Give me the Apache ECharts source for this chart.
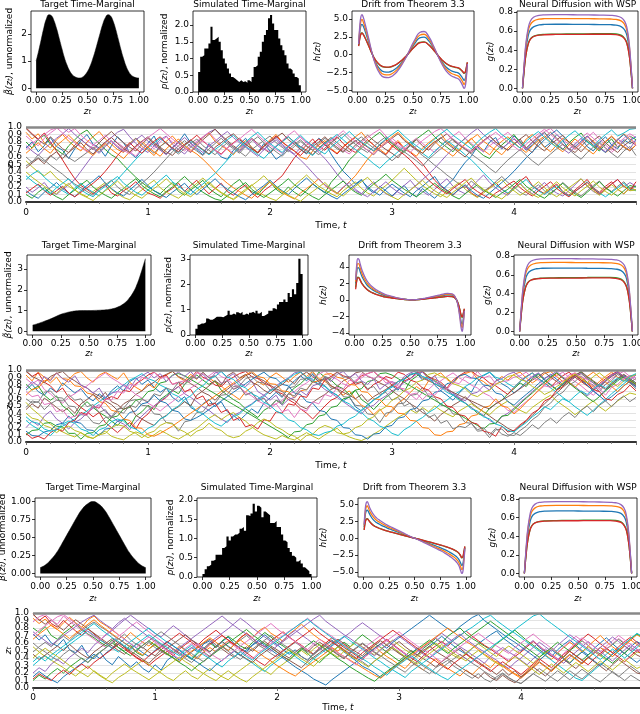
<!DOCTYPE html>
<html lang="en">
<head>
<meta charset="utf-8"/>
<title>Time-marginals, drift and neural diffusion</title>
<script src="https://cdn.jsdelivr.net/npm/echarts@6.0.0/dist/echarts.min.js"></script>
<style>
    * { margin: 0; padding: 0; }
    html, body { width: 640px; height: 714px; background: #fff; overflow: hidden; }
    #main { width: 640px; height: 714px; }
</style>
</head>
<body>
<div id="main"></div>
<script>
// ---------------- data ----------------

// target time-marginals (unnormalized)
var targetZ1 = [0, 0.025, 0.05, 0.075, 0.1, 0.125, 0.15, 0.175, 0.2, 0.225, 0.25, 0.275, 0.3, 0.325, 0.35, 0.375, 0.4, 0.425, 0.45, 0.475, 0.5,
    0.525, 0.55, 0.575, 0.6, 0.625, 0.65, 0.675, 0.7, 0.725, 0.75, 0.775, 0.8, 0.825, 0.85, 0.875, 0.9, 0.925, 0.95, 0.975, 1];
var target1 = [1.00, 1.38, 1.80, 2.22, 2.55, 2.70, 2.66, 2.47, 2.18, 1.83, 1.47, 1.13, 0.86, 0.65, 0.51, 0.43, 0.39, 0.38, 0.41, 0.49, 0.62,
    0.81, 1.07, 1.37, 1.71, 2.05, 2.37, 2.60, 2.70, 2.65, 2.46, 2.16, 1.80, 1.43, 1.10, 0.82, 0.62, 0.49, 0.42, 0.39, 0.38];
var targetZ2 = [0, 0.05, 0.1, 0.15, 0.2, 0.25, 0.3, 0.35, 0.4, 0.45, 0.5, 0.55, 0.6, 0.65, 0.7, 0.75, 0.8, 0.85, 0.9, 0.925, 0.95, 0.975, 1];
var target2 = [0.30, 0.38, 0.48, 0.58, 0.70, 0.82, 0.90, 0.96, 0.99, 1.00, 1.00, 1.01, 1.02, 1.04, 1.08, 1.16, 1.30, 1.55, 1.95, 2.25, 2.62, 3.05, 3.50];
var targetZ3 = [0, 0.05, 0.1, 0.15, 0.2, 0.25, 0.3, 0.35, 0.4, 0.45, 0.5, 0.55, 0.6, 0.65, 0.7, 0.75, 0.8, 0.85, 0.9, 0.95, 1];
var target3 = [0.08, 0.12, 0.19, 0.28, 0.40, 0.53, 0.66, 0.79, 0.90, 0.97, 1.00, 0.97, 0.90, 0.79, 0.66, 0.53, 0.40, 0.28, 0.19, 0.12, 0.08];

// simulated time-marginal histograms, 50 bins of width 0.02
var hist1 = [0.6, 1.05, 1.1, 1.3, 1.3, 1.45, 1.95, 1.55, 1.6, 1.65, 1.5, 1.25, 1.0, 0.85, 0.7, 0.55, 0.45, 0.4, 0.35, 0.3,
    0.35, 0.3, 0.32, 0.28, 0.35, 0.3, 0.45, 0.75, 0.8, 1.05, 1.2, 1.5, 1.7, 1.85, 2.2, 2.3, 2.05, 1.85, 1.85, 1.6,
    1.4, 1.25, 1.1, 0.85, 0.7, 0.65, 0.55, 0.45, 0.4, 0.2];
var hist2 = [0.25, 0.4, 0.45, 0.45, 0.5, 0.65, 0.6, 0.6, 0.65, 0.72, 0.72, 0.72, 0.7, 0.75, 0.8, 0.95, 0.8, 0.85, 0.8, 0.9,
    0.85, 0.92, 0.8, 0.85, 0.8, 0.88, 0.92, 0.85, 0.95, 0.85, 0.92, 0.75, 0.8, 0.85, 0.95, 0.95, 1.05, 1.0, 1.2, 1.3,
    1.3, 1.4, 1.3, 1.65, 1.5, 1.8, 1.6, 2.05, 3.0, 2.4];
var hist3 = [0.08, 0.2, 0.28, 0.32, 0.42, 0.45, 0.58, 0.58, 0.58, 0.75, 0.8, 1.05, 0.95, 1.05, 1.1, 1.1, 1.15, 1.25, 1.3, 1.2,
    1.6, 1.58, 1.65, 1.9, 1.7, 1.85, 1.8, 1.55, 1.7, 1.65, 1.6, 1.4, 1.4, 1.45, 1.3, 1.3, 1.1, 0.95, 0.9, 0.75,
    0.65, 0.55, 0.5, 0.4, 0.45, 0.35, 0.25, 0.2, 0.15, 0.08];
var binWidth = 0.02;

// drift h(z) for the five diffusion nets: blue, orange, green, red, purple
var driftZ = [0.01, 0.02, 0.03, 0.04, 0.05, 0.07, 0.10, 0.13, 0.16, 0.20, 0.24, 0.28, 0.32, 0.36, 0.40, 0.44, 0.48, 0.52, 0.56, 0.60,
    0.64, 0.68, 0.72, 0.76, 0.80, 0.84, 0.88, 0.91, 0.93, 0.95, 0.96, 0.97, 0.98, 0.99];
var drift1 = [
    [1.4, 3.1, 4.05, 4.25, 4.05, 3.2, 1.75, 0.23, -0.99, -1.98, -2.39, -2.43, -2.2, -1.75, -1.06, -0.23, 0.76, 1.67, 2.36, 2.47, 1.98, 1.06, 0.0, -0.99, -1.75, -2.2, -2.43, -2.58, -2.89, -3.34, -3.57, -3.42, -2.6, -1.25],
    [1.45, 3.55, 4.65, 4.95, 4.65, 3.7, 2.0, 0.26, -1.14, -2.29, -2.77, -2.82, -2.55, -2.02, -1.23, -0.26, 0.88, 1.94, 2.73, 2.86, 2.29, 1.23, 0.0, -1.14, -2.02, -2.55, -2.82, -2.99, -3.34, -3.87, -4.14, -3.96, -3.0, -1.3],
    [1.25, 2.3, 2.9, 3.05, 2.9, 2.31, 1.27, 0.17, -0.72, -1.43, -1.73, -1.76, -1.6, -1.27, -0.77, -0.17, 0.55, 1.21, 1.71, 1.79, 1.43, 0.77, 0.0, -0.72, -1.27, -1.6, -1.76, -1.87, -2.09, -2.42, -2.6, -2.5, -1.9, -1.1],
    [1.2, 2.2, 2.85, 3.0, 2.85, 2.27, 1.24, 0.16, -0.7, -1.4, -1.7, -1.73, -1.57, -1.24, -0.76, -0.16, 0.54, 1.19, 1.67, 1.76, 1.4, 0.76, 0.0, -0.7, -1.24, -1.57, -1.73, -1.84, -2.05, -2.38, -2.55, -2.45, -1.85, -1.05],
    [1.5, 4.0, 5.3, 5.6, 5.3, 4.2, 2.3, 0.3, -1.3, -2.6, -3.15, -3.2, -2.9, -2.3, -1.4, -0.3, 1.0, 2.2, 3.1, 3.25, 2.6, 1.4, 0.0, -1.3, -2.3, -2.9, -3.2, -3.4, -3.8, -4.4, -4.7, -4.5, -3.4, -1.3]
];
var drift2 = [
    [2.0, 3.35, 3.9, 3.85, 3.45, 2.75, 2.05, 1.55, 1.25, 0.95, 0.7, 0.5, 0.39, 0.27, 0.17, 0.09, 0.04, 0.02, 0.04, 0.09, 0.17, 0.26, 0.35, 0.45, 0.55, 0.62, 0.58, 0.23, -0.4, -1.7, -2.55, -2.95, -2.35, -1.2],
    [2.2, 3.8, 4.4, 4.35, 3.9, 3.1, 2.3, 1.75, 1.4, 1.05, 0.8, 0.58, 0.44, 0.31, 0.19, 0.1, 0.04, 0.02, 0.04, 0.1, 0.19, 0.29, 0.4, 0.51, 0.62, 0.7, 0.66, 0.26, -0.45, -1.95, -2.9, -3.35, -2.65, -1.25],
    [1.5, 2.4, 2.75, 2.7, 2.45, 1.95, 1.45, 1.1, 0.88, 0.66, 0.5, 0.36, 0.28, 0.19, 0.12, 0.07, 0.03, 0.01, 0.03, 0.07, 0.12, 0.18, 0.25, 0.32, 0.38, 0.44, 0.41, 0.17, -0.28, -1.2, -1.8, -2.1, -1.7, -1.1],
    [1.3, 2.3, 2.7, 2.65, 2.4, 1.9, 1.42, 1.08, 0.86, 0.65, 0.49, 0.35, 0.27, 0.19, 0.12, 0.06, 0.03, 0.01, 0.03, 0.06, 0.12, 0.18, 0.24, 0.31, 0.38, 0.43, 0.4, 0.16, -0.27, -1.18, -1.78, -2.05, -1.65, -1.05],
    [2.4, 4.3, 5.0, 4.9, 4.4, 3.5, 2.6, 2.0, 1.6, 1.2, 0.9, 0.65, 0.5, 0.35, 0.22, 0.12, 0.05, 0.02, 0.05, 0.12, 0.22, 0.33, 0.45, 0.58, 0.7, 0.8, 0.75, 0.3, -0.5, -2.2, -3.3, -3.8, -3.0, -1.3]
];
var drift3 = [
    [1.65, 3.3, 4.0, 4.15, 3.95, 3.35, 2.7, 2.3, 2.05, 1.73, 1.46, 1.23, 1.0, 0.77, 0.54, 0.31, 0.09, -0.09, -0.31, -0.54, -0.77, -1.0, -1.23, -1.46, -1.73, -2.05, -2.4, -2.75, -3.1, -3.7, -4.0, -3.85, -2.8, -1.4],
    [1.85, 3.7, 4.6, 4.75, 4.5, 3.8, 3.1, 2.65, 2.35, 2.0, 1.68, 1.42, 1.15, 0.88, 0.62, 0.35, 0.1, -0.1, -0.35, -0.62, -0.88, -1.15, -1.42, -1.68, -2.0, -2.35, -2.75, -3.15, -3.55, -4.25, -4.6, -4.45, -3.2, -1.45],
    [1.25, 2.35, 2.8, 2.9, 2.75, 2.35, 1.9, 1.65, 1.45, 1.24, 1.05, 0.88, 0.72, 0.55, 0.39, 0.22, 0.07, -0.07, -0.22, -0.39, -0.55, -0.72, -0.88, -1.05, -1.24, -1.45, -1.7, -1.95, -2.2, -2.65, -2.9, -2.8, -2.1, -1.25],
    [1.2, 2.3, 2.75, 2.85, 2.7, 2.3, 1.87, 1.62, 1.43, 1.22, 1.03, 0.86, 0.7, 0.54, 0.38, 0.22, 0.06, -0.06, -0.22, -0.38, -0.54, -0.7, -0.86, -1.03, -1.22, -1.43, -1.68, -1.92, -2.16, -2.6, -2.85, -2.75, -2.05, -1.2],
    [2.0, 4.2, 5.2, 5.4, 5.1, 4.3, 3.5, 3.0, 2.65, 2.25, 1.9, 1.6, 1.3, 1.0, 0.7, 0.4, 0.12, -0.12, -0.4, -0.7, -1.0, -1.3, -1.6, -1.9, -2.25, -2.65, -3.1, -3.55, -4.0, -4.8, -5.2, -5.0, -3.6, -1.5]
];

// neural diffusion g(z), same nets in every row: blue, orange, green, red, purple
var gZ = [0, 0.01, 0.02, 0.03, 0.05, 0.07, 0.1, 0.15, 0.2, 0.3, 0.4, 0.5, 0.6, 0.7, 0.8, 0.85, 0.9, 0.93, 0.95, 0.97, 0.98, 0.99, 1];
var gNets = [
    [0, 0.15, 0.29, 0.40, 0.54, 0.61, 0.645, 0.665, 0.67, 0.672, 0.672, 0.671, 0.67, 0.669, 0.667, 0.662, 0.645, 0.61, 0.55, 0.41, 0.30, 0.16, 0],
    [0, 0.16, 0.31, 0.44, 0.59, 0.665, 0.705, 0.725, 0.73, 0.732, 0.732, 0.731, 0.73, 0.729, 0.727, 0.722, 0.705, 0.665, 0.60, 0.45, 0.32, 0.17, 0],
    [0, 0.125, 0.245, 0.34, 0.455, 0.515, 0.545, 0.56, 0.565, 0.568, 0.57, 0.571, 0.572, 0.574, 0.574, 0.57, 0.555, 0.52, 0.47, 0.35, 0.25, 0.13, 0],
    [0, 0.125, 0.245, 0.34, 0.455, 0.51, 0.543, 0.558, 0.562, 0.565, 0.566, 0.566, 0.567, 0.567, 0.567, 0.563, 0.548, 0.515, 0.465, 0.345, 0.25, 0.13, 0],
    [0, 0.17, 0.33, 0.46, 0.62, 0.70, 0.745, 0.765, 0.77, 0.772, 0.772, 0.771, 0.77, 0.768, 0.765, 0.76, 0.74, 0.70, 0.63, 0.47, 0.34, 0.18, 0]
];

// sample paths z_t (in hundredths), evenly spaced over t in [0, 5]; "|" marks every 10 steps
var tEnd = 5;
var paths1 = [
    "72 80 67 75 86 74 69 58 71 82 | 90 77 72 61 75 87 79 66 59 70 | 78 88 71 64 73 80 91 79 70 63 | 78 69 60 57 69 77 85 72 66 78 | 68 57 63 74 81 70 64 76 85 79 | 64 52 41 33 24 30 18 12 21 15 | 8 16 22 12 7 18 11 5 14 22 | 30 42 53 61 74 67 80 86 71 78 | 88 81 69 76 84 73 79 90 82 70 | 77 85 74 68 79 87 76 71 83 78 | 82",
    "93 84 91 79 72 83 90 81 74 68 | 80 87 94 84 77 70 66 78 85 74 | 69 62 74 81 88 79 72 67 78 86 | 92 81 75 70 63 74 82 73 66 75 | 83 90 80 73 68 60 57 68 76 82 | 71 65 74 81 87 93 83 76 70 64 | 75 82 72 67 61 72 79 85 91 80 | 74 68 78 85 76 69 63 74 81 87 | 79 72 84 90 82 73 67 76 85 80 | 71 78 88 81 74 66 72 83 91 84 | 78",
    "80 72 84 89 77 70 64 75 83 91 | 96 86 78 70 63 58 49 41 33 26 | 20 15 11 19 26 14 9 16 22 29 | 18 12 7 16 24 30 20 14 10 19 | 27 17 11 20 13 8 15 24 18 12 | 26 35 44 56 64 72 80 87 93 84 | 78 71 66 77 84 90 96 87 79 73 | 67 78 85 76 69 62 58 68 76 83 | 90 79 72 80 87 93 83 76 70 79 | 86 92 81 74 68 77 84 73 80 88 | 83",
    "99 91 84 92 80 68 56 43 31 22 | 17 11 18 23 12 8 15 20 27 18 | 12 9 5 13 18 25 14 22 29 19 | 11 18 25 14 9 17 23 12 6 15 | 21 28 35 47 59 68 76 84 74 69 | 79 87 78 71 66 75 83 76 68 63 | 73 80 71 66 59 51 40 29 21 15 | 9 17 22 12 7 14 19 26 17 11 | 20 28 34 22 16 11 18 24 14 9 | 16 23 30 19 13 21 27 17 11 19 | 16",
    "20 13 19 26 15 10 17 23 30 41 | 52 63 71 79 86 93 97 87 78 71 | 66 75 83 88 77 70 64 73 79 86 | 93 97 88 80 73 67 76 84 75 69 | 80 86 77 70 64 72 81 74 66 58 | 48 37 28 21 15 11 20 27 17 11 | 7 15 22 29 19 14 9 17 24 31 | 21 15 11 20 28 36 26 19 13 9 | 18 25 16 11 19 26 17 12 8 15 | 23 31 21 14 10 17 24 30 20 26 | 21",
    "98 90 83 77 87 79 71 66 76 84 | 76 70 79 87 94 86 79 73 68 77 | 85 77 71 64 72 80 72 66 75 83 | 90 97 89 82 75 69 78 85 78 71 | 65 74 81 87 80 74 69 63 72 79 | 86 79 72 67 76 82 89 82 76 70 | 65 59 69 76 83 75 69 78 85 91 | 82 76 71 65 74 81 88 80 74 69 | 77 84 72 66 79 86 93 85 77 71 | 66 74 83 76 70 80 87 79 73 68 | 76",
    "88 81 75 85 92 98 99 93 98 89 | 82 76 70 79 86 79 73 67 61 71 | 78 71 80 87 80 74 68 75 81 87 | 93 84 77 71 65 72 78 84 77 71 | 67 75 82 89 95 86 79 73 68 76 | 83 76 69 64 73 80 86 92 97 88 | 81 75 70 79 85 78 72 66 75 82 | 88 94 85 78 72 67 75 81 87 93 | 85 78 71 80 88 94 98 90 83 77 | 70 78 86 93 84 76 69 78 85 91 | 86",
    "48 54 59 54 62 56 64 59 54 60 | 66 73 67 76 82 73 68 78 85 78 | 71 65 74 80 70 64 71 78 84 75 | 69 63 72 79 73 67 61 70 76 82 | 88 79 73 67 74 81 74 69 78 85 | 77 71 66 75 81 87 78 72 68 62 | 55 62 68 75 69 62 56 49 43 36 | 30 24 19 28 21 14 20 27 34 26 | 20 13 9 17 23 15 10 18 26 19 | 13 8 15 22 28 19 14 21 27 18 | 21",
    "55 47 40 35 41 32 26 21 16 11 | 7 14 20 26 17 11 6 3 10 16 | 23 29 19 13 9 5 12 18 25 32 | 24 18 12 7 4 11 17 23 14 9 | 5 2 9 15 22 29 36 28 21 16 | 11 7 15 21 27 18 12 8 16 22 | 29 37 45 37 29 22 16 11 7 14 | 20 26 17 11 6 12 18 24 30 21 | 15 9 14 20 27 19 12 7 13 19 | 25 31 22 15 9 16 23 17 11 18 | 16",
    "30 37 42 33 26 20 15 10 18 25 | 18 13 8 16 23 30 39 48 57 65 | 72 79 85 78 71 66 75 82 75 69 | 63 70 76 83 89 81 74 69 63 58 | 67 74 80 87 79 73 67 62 71 78 | 84 90 83 76 70 64 58 51 45 53 | 60 67 74 80 71 65 59 68 75 82 | 76 70 63 56 48 39 31 23 17 12 | 18 24 30 21 15 10 16 22 13 8 | 14 20 27 18 12 7 13 19 25 17 | 15",
    "15 9 5 13 19 26 18 12 7 15 | 22 28 35 25 18 12 8 16 23 30 | 22 15 10 6 13 19 25 16 10 17 | 24 31 23 17 12 7 3 10 16 22 | 29 21 15 10 18 25 32 24 18 13 | 8 4 11 17 23 29 20 14 9 17 | 24 18 12 7 15 21 28 34 22 16 | 10 17 23 15 9 5 12 19 26 33 | 41 50 59 67 75 83 90 96 88 80 | 73 81 88 79 72 66 75 83 90 82 | 87",
    "65 72 79 71 65 75 82 89 81 74 | 68 62 71 78 70 64 58 67 74 81 | 73 67 61 71 78 84 75 69 64 57 | 49 40 32 25 19 14 9 5 13 20 | 27 19 13 8 4 12 18 24 31 22 | 16 11 19 27 35 46 57 66 73 80 | 87 93 84 77 71 65 74 81 73 67 | 61 70 77 84 90 81 75 69 63 72 | 79 72 66 75 82 88 80 73 67 76 | 84 77 70 64 73 81 88 80 74 69 | 76",
    "10 5 13 19 12 7 3 10 16 23 | 29 20 14 9 5 12 18 25 31 22 | 16 11 7 14 20 27 34 26 19 13 | 8 4 2 8 14 20 26 17 11 6 | 12 18 24 31 23 17 12 7 3 10 | 16 22 28 19 13 9 17 24 30 37 | 29 23 17 12 7 13 19 25 18 13 | 8 4 11 17 23 16 11 6 12 17 | 24 30 21 15 9 5 12 18 25 17 | 11 6 13 20 27 19 13 8 15 22 | 20",
    "12 18 24 15 9 15 21 12 7 13 | 19 25 32 41 51 62 71 79 71 65 | 74 81 87 78 72 67 76 82 89 81 | 75 69 64 72 79 85 77 71 66 75 | 81 88 80 74 68 62 71 78 84 76 | 70 64 73 80 86 79 73 68 76 83 | 75 69 63 56 47 38 29 22 16 11 | 18 24 30 20 14 9 5 12 17 23 | 28 19 13 8 15 21 27 18 12 7 | 14 20 26 17 11 18 24 30 21 15 | 27",
    "75 68 62 71 78 85 91 98 90 83 | 77 71 65 74 81 73 67 76 83 89 | 81 75 69 63 72 79 86 78 72 66 | 75 81 88 94 86 79 73 67 61 70 | 77 83 75 69 63 56 48 39 30 23 | 17 12 20 26 17 11 7 14 20 27 | 19 13 9 16 23 30 37 45 54 63 | 71 78 85 92 98 90 83 77 71 78 | 84 76 70 79 86 92 84 77 71 65 | 74 81 88 79 72 67 76 84 78 71 | 83",
    "45 52 58 51 61 67 58 66 73 79 | 70 64 73 80 86 78 71 66 75 81 | 87 79 73 67 62 71 77 83 76 70 | 64 73 79 86 91 83 77 71 65 74 | 80 86 92 83 77 70 65 74 80 87 | 79 73 67 76 82 75 69 63 72 78 | 85 91 82 76 70 65 73 80 86 78 | 72 66 60 69 75 82 88 80 74 69 | 77 84 90 81 74 68 77 83 89 80 | 74 67 76 82 88 79 72 66 75 81 | 76",
    "70 78 84 90 96 99 92 85 79 73 | 67 76 82 89 81 75 69 64 73 80 | 86 92 98 91 84 78 72 67 75 82 | 75 69 63 72 78 84 91 97 89 82 | 76 70 65 73 80 87 79 73 68 76 | 82 88 95 87 81 75 69 64 72 79 | 85 78 72 66 75 82 88 94 98 91 | 84 78 72 67 75 81 87 93 86 80 | 74 68 77 84 91 97 90 83 76 70 | 78 85 92 85 78 72 66 74 81 88 | 75",
    "60 53 63 56 49 43 37 30 24 19 | 14 9 17 23 29 20 14 10 18 25 | 32 40 49 58 67 75 82 74 68 62 | 71 78 85 77 71 65 74 81 87 79 | 73 67 61 70 77 83 75 69 63 72 | 79 85 91 83 77 71 66 74 81 87 | 79 73 67 61 55 48 57 64 71 78 | 84 76 70 64 58 52 45 39 48 56 | 63 70 62 55 49 57 64 71 77 70 | 63 57 66 73 80 72 65 59 68 74 | 62",
    "40 33 27 21 16 11 19 25 16 10 | 6 2 9 15 21 28 20 14 9 5 | 12 18 24 31 23 17 11 7 14 20 | 27 19 13 8 3 9 15 22 28 35 | 26 20 14 9 5 1 8 14 20 26 | 18 12 8 15 21 27 33 24 18 12 | 7 3 10 16 22 29 21 15 10 6 | 13 19 26 32 23 17 12 8 4 11 | 17 24 16 10 6 13 20 27 19 13 | 8 15 21 28 20 14 9 16 22 15 | 16",
    "35 28 22 16 11 19 25 31 22 16 | 11 7 15 21 28 34 25 19 13 9 | 16 22 29 36 27 21 15 10 18 24 | 31 38 47 56 65 73 80 87 93 85 | 78 72 66 75 82 89 81 75 69 64 | 73 80 87 94 86 80 74 68 77 84 | 90 96 88 81 75 69 77 84 91 97 | 89 83 77 71 80 87 93 98 90 84 | 78 72 81 88 94 86 79 73 82 89 | 95 87 80 74 83 90 96 88 92 97 | 98"
];
var paths2 = [
    "72 80 70 65 75 69 82 75 68 74 | 63 57 67 60 71 78 71 84 89 80 | 86 76 69 75 62 56 63 48 43 53 | 59 49 56 42 37 30 38 46 40 54 | 61 69 62 76 85 92 85 94 83 78 | 70 65 57 63 49 43 52 58 64 71 | 78 72 87 93 96 86 91 79 71 65 | 58 68 76 69 84 92 97 88 81 76 | 68 75 83 90 95 87 80 73 81 88 | 94 86 79 71 64 72 80 87 93 85 | 78",
    "93 85 97 90 82 90 78 87 95 98 | 89 83 93 97 92 87 96 83 76 71 | 81 75 88 93 98 90 85 94 87 97 | 89 83 78 70 65 59 70 76 84 79 | 90 96 90 83 91 97 91 98 88 84 | 78 73 65 71 60 51 47 38 46 35 | 45 54 60 69 77 71 85 92 96 87 | 81 91 95 98 88 84 77 84 91 86 | 94 97 89 82 88 95 98 91 84 90 | 96 89 82 76 84 91 97 90 85 92 | 93",
    "80 72 78 65 58 64 50 44 35 48 | 56 48 41 36 29 23 32 21 36 42 | 51 45 59 65 72 67 80 87 93 86 | 80 85 72 65 59 54 46 40 34 44 | 49 58 52 67 75 81 89 83 97 90 | 86 78 74 66 72 59 53 45 54 62 | 68 76 70 85 91 98 91 85 80 73 | 65 60 54 48 40 36 47 53 58 67 | 74 82 77 88 94 86 79 72 80 87 | 93 97 90 84 77 85 92 96 89 83 | 88",
    "99 91 96 83 78 69 75 62 55 48 | 42 35 41 27 20 13 21 27 18 32 | 39 50 56 62 71 77 84 89 98 90 | 86 79 77 85 90 95 98 91 88 82 | 78 70 67 59 54 46 40 32 41 50 | 58 62 71 79 83 92 95 98 90 87 | 79 75 85 88 96 98 90 87 83 75 | 86 92 97 99 92 89 82 78 72 66 | 76 84 91 96 88 82 76 85 92 97 | 90 84 78 72 81 88 94 98 91 86 | 80",
    "20 29 23 36 43 32 26 18 27 32 | 40 47 52 42 36 29 25 17 28 36 | 44 50 57 63 71 77 67 62 56 49 | 44 37 32 27 37 41 48 53 60 65 | 72 78 84 89 96 98 89 85 80 73 | 68 62 56 50 44 39 48 51 59 64 | 71 75 83 88 94 97 88 84 78 72 | 66 61 54 48 42 37 30 25 35 40 | 47 55 62 70 77 84 91 96 89 83 | 77 70 64 71 79 86 93 97 90 84 | 78",
    "98 91 87 82 91 95 98 90 85 79 | 75 68 64 57 52 44 53 58 66 71 | 78 83 90 94 98 91 87 81 76 69 | 65 58 67 73 80 85 92 96 89 85 | 79 74 70 62 58 50 46 55 61 66 | 73 77 85 89 96 98 91 88 82 78 | 71 65 60 53 48 41 36 29 38 44 | 51 56 63 55 48 42 36 30 25 19 | 15 22 29 37 45 53 61 68 76 83 | 90 95 88 82 76 84 91 96 89 83 | 77",
    "88 81 86 73 67 59 54 62 67 73 | 78 85 90 96 89 84 78 73 66 61 | 54 49 43 50 56 63 68 75 80 87 | 92 98 91 87 80 76 69 64 57 53 | 46 53 58 66 70 77 82 89 94 99 | 91 87 81 77 86 89 95 98 91 88 | 82 78 71 66 59 69 73 81 85 91 | 96 89 85 79 75 68 64 56 52 44 | 41 49 56 63 71 78 86 92 97 90 | 84 78 71 65 73 80 88 94 98 91 | 86",
    "48 57 55 69 71 62 61 50 49 38 | 37 27 25 34 35 46 47 57 59 51 | 50 39 38 27 26 15 28 30 41 42 | 53 54 65 66 77 78 88 91 83 82 | 72 73 63 75 77 87 88 96 86 87 | 75 74 63 62 51 50 39 38 27 40 | 42 53 54 65 66 76 64 62 51 50 | 39 38 27 26 15 16 6 17 18 10 | 9 16 22 31 37 48 54 64 69 79 | 84 92 83 79 70 80 85 94 86 82 | 74",
    "55 46 39 31 25 18 14 10 7 13 | 8 5 11 15 8 5 3 9 14 11 | 6 10 16 12 7 4 9 14 19 26 | 33 38 31 37 41 34 29 21 15 10 | 7 4 9 5 3 8 13 8 4 10 | 15 19 11 7 4 2 6 11 16 22 | 28 34 39 45 40 48 42 50 44 39 | 35 43 48 53 47 42 38 46 52 57 | 49 44 40 48 54 60 65 57 51 45 | 38 44 51 57 49 43 50 57 63 68 | 66",
    "30 23 18 13 9 17 22 27 32 38 | 43 50 56 62 67 74 79 86 90 95 | 88 85 79 75 67 63 56 51 43 39 | 32 26 22 29 35 39 47 52 59 63 | 71 75 83 88 94 97 90 87 80 77 | 69 65 57 53 45 41 33 29 22 19 | 12 9 17 22 29 34 41 46 53 58 | 65 70 77 82 89 93 97 90 87 81 | 76 84 90 96 88 82 75 69 62 56 | 49 43 37 44 52 59 67 74 81 88 | 82",
    "15 9 8 14 16 24 26 36 28 26 | 17 16 9 18 19 29 31 41 43 53 | 55 65 57 54 44 42 32 30 34 39 | 45 51 57 63 69 75 81 87 92 97 | 90 88 80 78 68 66 56 54 44 42 | 32 30 20 19 10 9 4 11 12 21 | 23 33 35 45 47 57 59 69 71 81 | 83 92 94 89 88 79 78 68 66 56 | 51 59 66 73 81 88 94 87 80 88 | 93 86 79 71 64 57 63 70 78 84 | 76",
    "65 73 75 85 87 96 88 87 78 77 | 68 66 56 54 44 42 32 30 20 19 | 10 8 12 17 22 28 34 40 46 52 | 58 64 70 76 82 88 93 98 91 89 | 81 80 71 70 61 71 73 83 85 94 | 95 90 88 80 79 70 69 60 59 50 | 49 40 39 30 29 20 19 10 9 14 | 15 24 26 36 38 48 50 60 50 48 | 39 46 55 63 72 80 88 95 89 83 | 76 84 91 97 90 83 77 70 78 85 | 80",
    "10 16 17 26 27 22 21 12 12 4 | 12 13 22 24 34 36 46 48 58 60 | 70 72 82 84 93 95 92 87 82 77 | 72 67 62 57 52 47 42 37 32 27 | 22 17 12 6 14 15 24 26 36 38 | 48 50 60 62 72 74 84 86 95 96 | 93 88 83 78 73 68 63 58 53 48 | 43 38 33 28 23 18 25 26 36 37 | 45 53 61 68 76 83 90 96 89 82 | 75 69 62 56 63 71 78 85 91 86 | 80",
    "12 5 8 4 13 18 15 27 30 41 | 38 50 47 59 63 60 72 70 81 86 | 93 97 90 93 80 83 70 73 60 64 | 50 54 41 45 30 34 21 24 18 31 | 29 42 40 53 51 64 62 75 73 86 | 91 97 92 89 80 83 72 80 84 91 | 88 97 94 86 83 75 72 63 60 50 | 48 38 36 27 25 15 13 8 22 14 | 16 24 30 40 45 57 61 72 77 88 | 93 86 82 73 70 60 58 66 70 79 | 71",
    "75 84 78 91 85 96 88 83 92 79 | 75 68 75 61 68 70 80 74 87 92 | 97 89 95 84 92 97 91 98 88 94 | 85 96 98 89 95 82 77 85 70 65 | 58 65 51 59 62 71 65 78 81 90 | 84 94 98 89 95 85 80 88 73 80 | 84 80 91 96 99 91 86 92 79 75 | 68 62 57 67 69 78 72 85 88 94 | 97 90 84 91 96 88 93 98 90 85 | 91 96 88 82 76 85 92 97 91 86 | 93",
    "45 53 47 61 55 48 42 48 40 53 | 59 66 60 69 56 52 45 50 37 32 | 27 23 32 37 44 49 56 50 65 71 | 78 85 79 92 97 89 94 83 79 72 | 67 75 80 87 81 92 97 91 84 89 | 78 74 69 65 60 66 56 63 68 73 | 79 84 88 94 96 89 85 81 76 73 | 69 65 61 57 53 49 46 53 58 63 | 68 74 80 86 91 97 90 84 78 85 | 92 98 91 85 79 73 81 88 94 88 | 82",
    "70 63 65 52 54 42 45 33 36 39 | 37 50 48 60 58 70 68 80 78 90 | 87 97 88 91 80 83 85 84 96 95 | 90 92 82 85 74 77 66 69 58 61 | 50 53 42 45 34 46 43 56 53 66 | 63 76 73 86 83 95 92 88 92 82 | 84 75 74 66 68 59 67 65 75 73 | 83 81 91 88 98 89 92 81 84 85 | 90 92 97 89 86 78 76 81 85 93 | 96 90 87 77 74 65 76 80 88 92 | 89",
    "60 54 56 45 53 58 57 66 58 60 | 49 52 41 45 33 43 40 51 48 59 | 56 67 64 75 72 83 80 91 88 97 | 89 92 81 85 73 77 65 69 57 61 | 49 58 55 67 64 75 72 84 80 91 | 88 97 90 91 82 84 74 77 66 69 | 58 62 50 54 42 46 34 38 26 30 | 18 22 20 26 17 20 10 19 11 8 | 13 9 16 24 18 27 33 26 35 41 | 34 44 50 42 51 57 49 58 64 56 | 62",
    "40 33 31 23 20 13 19 22 16 13 | 7 5 10 12 20 24 22 15 12 6 | 12 15 23 27 25 18 14 8 15 18 | 26 19 16 9 6 8 15 19 27 32 | 28 21 17 11 8 2 9 11 19 23 | 20 13 11 13 20 23 31 35 44 49 | 58 63 71 75 83 86 94 96 91 89 | 81 78 74 66 63 69 72 80 84 91 | 93 87 84 77 73 66 70 77 82 89 | 94 88 82 91 96 89 83 77 85 90 | 94",
    "35 28 26 18 15 17 25 29 26 18 | 15 9 17 20 28 32 29 21 18 12 | 19 23 32 36 45 50 59 64 73 78 | 87 91 98 90 87 79 75 67 63 55 | 51 43 39 31 28 20 17 11 9 13 | 15 22 25 32 36 45 50 59 63 72 | 76 84 87 94 96 91 88 81 77 69 | 65 58 54 46 43 35 32 25 22 16 | 14 21 27 35 41 49 45 53 60 56 | 64 71 66 74 80 75 83 89 84 91 | 95"
];
var paths3 = [
    "72 64 71 60 56 65 51 47 57 43 | 39 48 37 31 42 35 28 35 26 21 | 31 24 37 43 37 48 54 48 59 63 | 54 62 68 59 53 48 58 64 71 64 | 58 51 45 51 42 37 46 52 58 63 | 55 48 42 36 29 25 20 14 20 27 | 33 40 46 53 47 56 62 69 62 56 | 50 45 53 59 65 71 76 67 61 55 | 49 57 63 54 48 42 51 58 64 57 | 50 44 53 60 67 59 52 46 55 62 | 57",
    "93 86 92 83 78 87 94 87 81 91 | 96 88 83 77 71 66 74 67 61 56 | 64 58 51 47 56 50 43 39 48 54 | 48 57 63 57 67 73 67 76 81 73 | 68 62 72 78 85 78 71 65 60 54 | 49 58 51 45 40 49 56 48 42 37 | 31 26 35 29 24 32 39 32 26 21 | 16 24 18 26 33 27 36 30 25 19 | 15 23 30 37 44 38 47 54 61 55 | 48 56 63 70 62 55 49 57 64 71 | 66",
    "80 74 82 70 65 73 79 86 78 72 | 67 61 56 64 54 49 57 47 43 52 | 59 51 46 40 35 44 38 46 53 60 | 54 63 69 63 56 52 61 67 74 68 | 61 56 50 44 53 46 39 34 42 48 | 55 61 55 64 71 65 59 54 48 42 | 36 43 50 44 53 59 66 60 69 75 | 80 72 66 61 56 51 59 65 71 77 | 70 63 57 51 45 54 47 41 50 56 | 63 57 49 43 52 58 65 59 66 72 | 68",
    "99 90 96 86 81 90 83 76 70 79 | 72 65 59 53 62 54 47 41 36 30 | 37 43 49 43 52 58 64 57 65 71 | 77 70 64 58 67 73 66 59 55 63 | 69 75 68 62 57 51 45 54 60 67 | 60 54 49 43 38 46 53 59 65 58 | 52 46 40 35 43 50 56 62 56 64 | 70 76 69 63 57 52 46 41 35 42 | 48 55 62 56 49 43 37 45 51 58 | 65 72 66 59 53 47 55 62 68 61 | 55",
    "20 27 22 32 38 32 41 47 53 47 | 57 64 71 77 84 91 97 91 85 79 | 73 68 76 83 77 70 64 58 52 61 | 67 73 79 86 93 87 80 74 68 62 | 56 64 71 77 71 65 59 53 47 56 | 62 68 74 81 87 81 75 69 63 57 | 51 45 40 48 55 61 67 73 67 61 | 55 50 44 39 33 42 48 54 48 43 | 37 31 39 46 52 45 39 33 41 48 | 55 62 55 49 42 36 44 51 58 52 | 46",
    "98 91 85 91 83 77 85 91 85 79 | 73 67 61 56 50 45 53 59 54 48 | 43 51 58 52 47 41 48 54 60 65 | 57 52 46 41 49 55 49 57 62 56 | 51 45 40 48 54 48 56 61 55 50 | 44 39 47 53 59 53 47 42 50 56 | 62 55 49 44 39 34 28 35 41 47 | 53 46 40 35 29 24 18 25 17 23 | 15 21 28 35 29 23 31 38 45 39 | 33 40 47 54 48 42 49 56 50 44 | 40",
    "88 95 98 91 85 96 89 83 77 71 | 65 59 54 62 69 75 82 88 81 75 | 69 63 57 51 45 53 59 52 46 41 | 49 55 62 56 50 44 39 47 53 59 | 65 70 76 81 87 93 86 80 74 69 | 63 57 51 45 52 58 64 70 63 57 | 51 46 41 49 55 61 67 61 55 50 | 44 39 34 42 48 54 48 42 37 45 | 51 57 63 56 50 44 38 46 53 60 | 67 61 55 48 56 63 70 64 58 51 | 50",
    "48 55 61 55 63 69 63 71 77 83 | 88 82 77 71 65 72 64 58 53 61 | 54 49 44 52 45 39 34 42 48 42 | 50 56 50 58 64 70 63 57 52 46 | 41 49 55 61 55 49 44 52 58 64 | 57 51 46 40 35 29 36 42 48 54 | 47 41 35 30 24 19 27 32 37 29 | 24 18 13 19 12 8 15 20 14 9 | 6 13 19 26 20 14 9 16 23 17 | 12 19 26 33 27 21 15 22 29 23 | 17",
    "55 48 42 37 32 27 21 16 23 29 | 22 16 11 7 14 19 25 31 37 31 | 25 20 14 10 17 23 16 12 20 26 | 20 15 11 18 24 30 36 29 23 18 | 26 32 38 44 50 44 52 58 52 46 | 41 49 55 61 55 49 44 52 58 64 | 57 51 46 41 49 54 60 54 48 43 | 39 47 53 59 53 47 42 50 56 50 | 45 39 33 41 47 53 46 40 34 42 | 48 55 49 43 37 45 52 46 40 48 | 46",
    "30 37 43 37 46 52 58 64 70 76 | 70 64 59 53 48 56 62 68 74 80 | 73 67 61 56 51 45 40 48 54 48 | 56 62 56 50 44 38 33 27 22 30 | 36 42 48 42 36 31 39 45 51 57 | 63 69 63 57 52 46 40 35 29 24 | 19 14 22 28 34 40 46 52 58 64 | 70 76 81 87 93 97 90 84 78 73 | 67 61 55 49 43 37 31 25 19 13 | 10 17 24 31 38 45 52 59 66 73 | 68",
    "15 22 16 11 7 15 21 27 33 39 | 45 39 47 53 59 65 59 53 47 42 | 50 56 62 56 50 44 39 34 28 23 | 31 37 43 49 43 51 57 63 57 51 | 45 40 34 28 23 18 12 8 4 11 | 17 23 29 35 41 47 53 59 53 61 | 67 73 79 85 91 97 91 85 79 74 | 82 88 94 98 90 84 78 72 66 61 | 55 49 43 37 44 51 45 39 33 41 | 48 42 36 30 38 45 52 46 40 34 | 41",
    "65 72 78 84 78 72 66 73 79 85 | 91 84 78 72 66 60 55 49 44 52 | 58 51 45 40 35 43 49 55 61 67 | 61 55 50 58 64 58 52 47 41 36 | 30 25 20 16 23 29 35 41 47 53 | 47 42 37 32 27 22 17 13 20 26 | 32 38 44 50 56 62 68 74 80 74 | 68 62 57 51 45 40 34 29 23 18 | 13 20 27 34 28 22 30 37 44 38 | 32 40 47 54 48 42 50 57 64 58 | 52",
    "10 17 12 20 26 20 28 34 40 34 | 42 48 54 60 54 48 43 51 57 63 | 57 51 45 40 34 29 23 30 36 42 | 48 54 60 66 72 78 71 65 59 54 | 48 42 37 45 51 57 63 57 51 45 | 39 34 28 23 18 13 9 16 22 28 | 34 40 46 52 58 64 58 52 46 53 | 59 65 71 77 83 89 83 77 71 65 | 59 53 47 41 48 54 61 55 49 43 | 37 44 51 45 39 33 40 47 54 48 | 56",
    "12 19 14 10 18 24 18 26 32 26 | 34 40 46 52 58 52 46 40 35 43 | 49 55 61 67 73 67 61 55 50 58 | 64 70 64 58 52 47 41 35 30 38 | 44 50 56 62 68 74 80 73 67 61 | 56 50 44 39 47 53 59 65 71 77 | 71 65 59 53 47 41 36 30 25 33 | 39 45 39 33 28 22 29 35 29 24 | 18 25 32 39 33 27 35 42 49 43 | 37 31 39 46 53 47 41 35 43 50 | 44",
    "75 69 63 57 64 70 76 82 88 93 | 97 90 84 79 87 93 86 80 74 68 | 63 57 51 46 54 60 66 72 78 84 | 90 96 89 83 77 72 66 60 55 49 | 56 62 68 74 80 86 92 97 89 83 | 77 71 66 60 54 48 43 51 57 63 | 69 63 57 51 45 40 48 54 60 66 | 72 65 59 53 48 42 37 31 26 34 | 40 47 54 61 55 49 57 64 71 65 | 58 52 46 54 61 68 62 56 50 57 | 63",
    "45 38 44 50 56 50 58 51 45 40 | 48 54 60 66 60 55 49 44 38 33 | 41 47 53 59 65 71 64 59 53 48 | 56 62 55 50 44 39 34 42 48 54 | 48 42 37 32 27 35 41 47 53 59 | 65 59 53 48 43 51 57 63 57 52 | 46 41 36 44 50 56 49 44 39 34 | 28 23 18 13 21 14 10 17 11 7 | 14 21 28 22 16 24 31 38 32 26 | 34 41 35 29 23 31 38 32 26 20 | 18",
    "70 77 83 89 95 98 92 86 80 75 | 69 64 72 78 71 65 59 54 62 68 | 61 55 50 44 39 47 53 59 52 46 | 41 36 44 50 56 62 68 74 80 86 | 79 73 67 62 56 51 59 65 59 53 | 47 42 36 31 39 45 51 57 63 69 | 75 68 62 56 51 46 40 35 43 49 | 55 61 67 73 67 61 56 51 46 54 | 60 66 72 65 59 53 47 55 62 69 | 63 57 50 44 52 59 66 60 54 48 | 55",
    "60 53 48 42 37 45 51 45 39 34 | 42 48 54 60 66 60 54 49 57 63 | 69 75 69 63 57 51 46 40 35 43 | 49 55 49 43 38 46 52 58 64 70 | 64 58 53 47 42 37 45 51 57 51 | 45 40 48 54 60 54 48 43 37 32 | 26 21 29 35 29 24 19 27 33 39 | 45 39 33 28 22 17 12 19 13 9 | 6 12 19 14 9 16 23 17 11 18 | 25 19 13 8 15 22 16 10 17 12 | 7",
    "40 47 53 47 42 36 30 25 20 15 | 23 17 12 20 26 32 26 21 16 11 | 17 23 29 35 41 35 30 24 19 14 | 10 17 23 17 12 8 15 21 27 33 | 39 45 51 45 39 34 29 37 43 49 | 55 49 43 38 33 28 36 42 48 54 | 48 42 37 32 40 46 52 58 52 46 | 41 36 44 50 44 38 33 28 36 42 | 36 30 24 18 25 32 26 20 27 34 | 28 22 29 36 30 24 31 38 32 26 | 30",
    "35 42 36 44 50 56 62 68 74 80 | 86 79 73 67 62 56 51 59 65 71 | 65 59 54 48 43 51 57 50 44 39 | 33 28 36 42 48 42 37 45 51 57 | 63 69 75 81 87 92 85 79 73 67 | 62 56 50 45 39 34 28 23 17 25 | 31 37 43 37 31 26 20 15 11 18 | 24 30 36 42 48 54 60 66 72 78 | 84 90 96 99 92 86 80 74 68 62 | 56 50 44 38 45 52 46 40 47 54 | 61"
];

// ---------------- styling and layout ----------------
var FONT = 'DejaVu Sans';
var TAB10 = ['#1f77b4', '#ff7f0e', '#2ca02c', '#d62728', '#9467bd', '#8c564b', '#e377c2', '#7f7f7f', '#bcbd22', '#17becf'];
var RICH = {
    i: { fontFamily: FONT, fontSize: 9, fontStyle: 'italic', color: '#000' },
    s: { fontFamily: FONT, fontSize: 6.5, fontStyle: 'italic', color: '#000', verticalAlign: 'bottom' },
    n: { fontFamily: FONT, fontSize: 9, color: '#000' }
};
var NAME_Z = '{i|z}{s|t}';
var Y_NAMES = ['{i|β̃(z}{s|t}{i|)}{n|, unnormalized}', '{i|p(z}{s|t}{i|)}{n|, normalized}', '{i|h(z}{s|t}{i|)}', '{i|g(z}{s|t}{i|)}'];
// path panels label every 0.1; split over two label axes so that no label gets dropped
var PATH_Y_EVEN = [0, 0.2, 0.4, 0.6, 0.8, 1];
var PATH_Y_ODD = [0.1, 0.3, 0.5, 0.7, 0.9];

// per row: small panel boxes [left, right], top, bottom, y ranges, name gaps; then the path panel
var ROWS = [
    {
        titleTop: 0, top: 11, bottom: 92,
        boxes: [[31, 144], [193, 306], [352, 474], [517, 638]],
        yr: [[-0.135, 2.835, [0, 1, 2], 0], [0, 2.42, [0, 0.5, 1, 1.5, 2], 1], [-5.215, 6.115, [-5, -2.5, 0, 2.5, 5], 1], [-0.039, 0.811, [0, 0.2, 0.4, 0.6, 0.8], 1]],
        yGap: [17, 24, 20, 12], xGap: 15, xMargin: 4,
        path: { left: 26, top: 127, bottom: 202, yGap: 11, xMargin: 6, xGap: 19 }
    },
    {
        titleTop: 241, top: 255, bottom: 335,
        boxes: [[27, 151], [190, 308], [349, 471], [514, 638]],
        yr: [[-0.175, 3.675, [0, 1, 2, 3], 0], [0, 3.15, [0, 1, 2, 3], 0], [-4.24, 5.44, [-4, -2, 0, 2, 4], 0], [-0.039, 0.811, [0, 0.2, 0.4, 0.6, 0.8], 1]],
        yGap: [14, 17, 17, 14], xGap: 14, xMargin: 4,
        path: { left: 26, top: 370, bottom: 442, yGap: 12, xMargin: 6, xGap: 19 }
    },
    {
        titleTop: 483, top: 498, bottom: 577,
        boxes: [[35, 151], [197, 317], [358, 471], [519, 637]],
        yr: [[-0.05, 1.05, [0, 0.25, 0.5, 0.75, 1], 2], [0, 2.05, [0, 0.5, 1, 1.5, 2], 1], [-5.73, 5.93, [-5, -2.5, 0, 2.5, 5], 1], [-0.039, 0.811, [0, 0.2, 0.4, 0.6, 0.8], 1]],
        yGap: [15, 15, 24, 14], xGap: 17, xMargin: 5,
        path: { left: 33, top: 613, bottom: 688, yGap: 20, xMargin: 5, xGap: 15 }
    }
];
var TITLES = ['Target Time-Marginal', 'Simulated Time-Marginal', 'Drift from Theorem 3.3', 'Neural Diffusion with WSP'];
var X_TICKS = [0, 0.25, 0.5, 0.75, 1];

var ROW_DATA = [
    { tz: targetZ1, t: target1, hist: hist1, drift: drift1, paths: paths1 },
    { tz: targetZ2, t: target2, hist: hist2, drift: drift2, paths: paths2 },
    { tz: targetZ3, t: target3, hist: hist3, drift: drift3, paths: paths3 }
];

// ---------------- helpers ----------------
function fmt(d) {
    return function (v) {
        var s = Math.abs(v).toFixed(d);
        return v < -1e-9 ? '\u2212' + s : s;
    };
}
function zip(xs, ys) {
    return ys.map(function (y, i) { return [xs[i], y]; });
}
function histPoints(h) {
    var pts = h.map(function (v, i) { return [i * binWidth, v]; });
    pts.push([h.length * binWidth, h[h.length - 1]]);
    return pts;
}
function parsePath(s) {
    var v = s.replace(/\|/g, ' ').trim().split(/\s+/).map(Number);
    var n = v.length;
    return v.map(function (p, i) { return [i * tEnd / (n - 1), p / 100]; });
}

var option = {
    animation: false,
    backgroundColor: '#ffffff',
    textStyle: { fontFamily: FONT },
    title: [], grid: [], xAxis: [], yAxis: [], series: []
};
var labelAxes = [];   // extra y axes that only carry labels, appended after the main ones

function addSmall(r, k) {
    var row = ROWS[r];
    var gi = option.grid.length;
    var b = row.boxes[k];
    var yr = row.yr[k];
    option.grid.push({
        left: b[0], top: row.top, width: b[1] - b[0], height: row.bottom - row.top,
        containLabel: false, outerBoundsMode: 'none',
        show: true, borderColor: '#000', borderWidth: 0.8, backgroundColor: 'rgba(0,0,0,0)'
    });
    option.title.push({
        text: TITLES[k], left: (b[0] + b[1]) / 2, top: row.titleTop, textAlign: 'center', padding: 0,
        textStyle: { fontFamily: FONT, fontSize: 9, fontWeight: 'normal', color: '#000' }
    });
    option.xAxis.push({
        type: 'value', gridIndex: gi, min: -0.05, max: 1.05,
        axisLine: { show: false, onZero: false }, splitLine: { show: false },
        axisTick: { show: true, customValues: X_TICKS, length: 3, lineStyle: { color: '#000', width: 0.8 } },
        axisLabel: { customValues: X_TICKS, formatter: fmt(2), fontSize: 9, color: '#000', margin: row.xMargin, fontFamily: FONT },
        name: NAME_Z, nameLocation: 'middle', nameGap: row.xGap, nameTextStyle: { rich: RICH }
    });
    option.yAxis.push({
        type: 'value', gridIndex: gi, min: yr[0], max: yr[1],
        axisLine: { show: false, onZero: false }, splitLine: { show: false },
        axisTick: { show: true, customValues: yr[2], length: 3, lineStyle: { color: '#000', width: 0.8 } },
        axisLabel: { customValues: yr[2], formatter: fmt(yr[3]), fontSize: 9, color: '#000', margin: 4, fontFamily: FONT },
        name: Y_NAMES[k], nameLocation: 'middle', nameGap: row.yGap[k], nameTextStyle: { rich: RICH }
    });
    return gi;
}

function pathYAxis(gi, values, withName, p) {
    return {
        type: 'value', gridIndex: gi, min: 0, max: 1, position: 'left', offset: 0,
        axisLine: { show: false, onZero: false }, axisTick: { show: false },
        splitLine: { show: withName, lineStyle: { color: '#dcdcdc', width: 0.8 } },
        axisLabel: { customValues: values, formatter: fmt(1), fontSize: 9, color: '#000', margin: 4,
            fontFamily: FONT, hideOverlap: false, showMinLabel: true, showMaxLabel: true },
        splitNumber: 10,
        name: withName ? NAME_Z : '', nameLocation: 'middle', nameGap: p.yGap, nameMoveOverlap: false,
        nameTextStyle: { rich: RICH }
    };
}

function addPaths(r) {
    var p = ROWS[r].path;
    var gi = option.grid.length;
    option.grid.push({ left: p.left, top: p.top, width: 610, height: p.bottom - p.top, show: false,
        containLabel: false, outerBoundsMode: 'none' });
    option.xAxis.push({
        type: 'value', gridIndex: gi, min: 0, max: tEnd, interval: 1,
        axisLine: { show: true, onZero: false, lineStyle: { color: '#333', width: 2 } },
        splitLine: { show: false },
        axisTick: { show: true, length: 3, lineStyle: { color: '#555', width: 0.8 } },
        minorTick: { show: true, splitNumber: 5, length: 2, lineStyle: { color: '#777', width: 0.8 } },
        axisLabel: { fontSize: 9, color: '#000', margin: p.xMargin, fontFamily: FONT,
            formatter: function (v) { return v >= tEnd ? '' : String(v); } },
        name: '{n|Time, }{i|t}', nameLocation: 'middle', nameGap: p.xGap, nameTextStyle: { rich: RICH }
    });
    option.yAxis.push(pathYAxis(gi, PATH_Y_EVEN, true, p));
    labelAxes.push(pathYAxis(gi, PATH_Y_ODD, false, p));

    var paths = ROW_DATA[r].paths;
    paths.forEach(function (s, i) {
        var ser = {
            type: 'line', xAxisIndex: gi, yAxisIndex: gi, data: parsePath(s),
            showSymbol: false, silent: true, lineStyle: { width: 1, color: TAB10[i % 10] }, itemStyle: { color: TAB10[i % 10] }
        };
        if (i === paths.length - 1) {
            ser.markLine = {
                silent: true, symbol: ['none', 'none'], label: { show: false }, animation: false,
                data: [{ yAxis: 1, lineStyle: { color: '#888', width: 2.5, type: 'solid' } }]
            };
        }
        option.series.push(ser);
    });
}

function lineSeries(gi, data, color, extra) {
    var s = { type: 'line', xAxisIndex: gi, yAxisIndex: gi, data: data, showSymbol: false, silent: true,
        lineStyle: { width: 1.3, color: color }, itemStyle: { color: color } };
    for (var key in extra) s[key] = extra[key];
    return s;
}

ROWS.forEach(function (row, r) {
    var d = ROW_DATA[r];
    var g0 = addSmall(r, 0);
    option.series.push(lineSeries(g0, zip(d.tz, d.t), '#000', {
        smooth: true, lineStyle: { width: 0.5, color: '#000' }, areaStyle: { color: '#000', opacity: 1 }
    }));
    var g1 = addSmall(r, 1);
    option.series.push(lineSeries(g1, histPoints(d.hist), '#000', {
        step: 'end', lineStyle: { width: 0, color: '#000' }, areaStyle: { color: '#000', opacity: 1 }
    }));
    var g2 = addSmall(r, 2);
    d.drift.forEach(function (ys, j) {
        option.series.push(lineSeries(g2, zip(driftZ, ys), TAB10[j], { smooth: true }));
    });
    var g3 = addSmall(r, 3);
    gNets.forEach(function (ys, j) {
        option.series.push(lineSeries(g3, zip(gZ, ys), TAB10[j], { smooth: true }));
    });
    addPaths(r);
});
option.yAxis = option.yAxis.concat(labelAxes);

var chart = echarts.init(document.getElementById('main'), null, { renderer: 'canvas' });
chart.setOption(option);
</script>
</body>
</html>
